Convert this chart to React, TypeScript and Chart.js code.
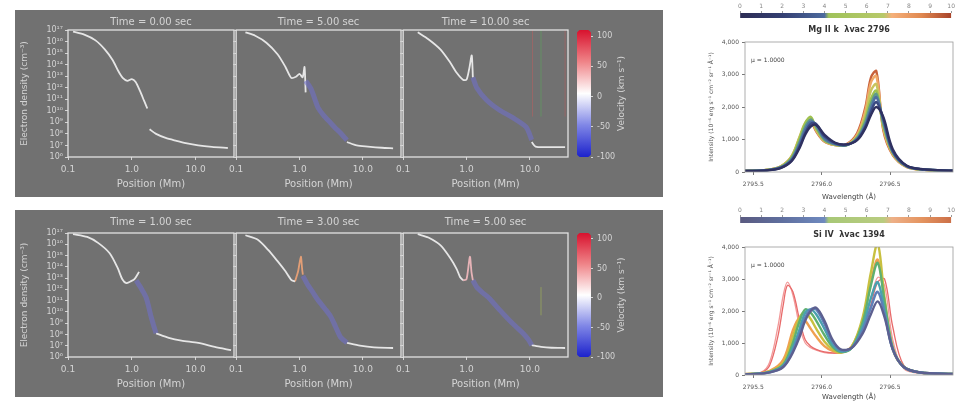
import React, { useEffect, useRef } from "react";
import { Chart, registerables } from "chart.js";

Chart.register(...registerables);

const FONT = "'DejaVu Sans', sans-serif";
const LIGHT = "#d4d4d4";
const PANEL = "#717171";

// ---------------- left panels: density vs position ----------------
const positionTicks = [0.1, 1, 10];
const positionTickLabels = ["0.1", "1.0", "10.0"];
const densityExponents = [6, 7, 8, 9, 10, 11, 12, 13, 14, 15, 16, 17];
const velocityTicks = [-100, -50, 0, 50, 100];

const topTitles = ["Time = 0.00 sec", "Time = 5.00 sec", "Time = 10.00 sec"];
const bottomTitles = ["Time = 1.00 sec", "Time = 3.00 sec", "Time = 5.00 sec"];

// top row, Time = 0.00
const a1WhiteX = [0.12, 0.18, 0.27, 0.38, 0.5, 0.62, 0.72, 0.85, 1.0, 1.15, 1.35, 1.55, 1.75];
const a1WhiteLogN = [16.85, 16.6, 16.1, 15.3, 14.4, 13.4, 12.85, 12.6, 12.75, 12.5, 11.7, 10.9, 10.2];
const a1TailX = [1.9, 2.4, 3.4, 5.0, 7.0, 11, 18, 32];
const a1TailLogN = [8.4, 8.0, 7.65, 7.4, 7.2, 7.0, 6.87, 6.78];
// top row, Time = 5.00
const a2WhiteX = [0.14, 0.2, 0.3, 0.45, 0.6, 0.74, 0.88, 1.0, 1.12, 1.2, 1.25];
const a2WhiteLogN = [16.8, 16.5, 15.9, 14.9, 13.8, 12.85, 12.95, 13.2, 12.9, 13.8, 11.6];
const a2BlueX = [1.25, 1.52, 1.75, 1.95, 2.4, 3.1, 3.7, 4.4, 5.6];
const a2BlueLogN = [12.6, 11.9, 11.0, 10.3, 9.6, 8.95, 8.5, 8.1, 7.45];
const a2TailX = [5.6, 8, 12, 20, 30];
const a2TailLogN = [7.3, 7.0, 6.9, 6.8, 6.75];
// top row, Time = 10.00
const a3WhiteX = [0.17, 0.25, 0.39, 0.55, 0.7, 0.88, 1.0, 1.1, 1.21, 1.26];
const a3WhiteLogN = [16.8, 16.2, 15.3, 14.2, 13.3, 12.7, 12.7, 13.6, 14.8, 12.9];
const a3BlueX = [1.26, 1.45, 2.07, 3.3, 5.2, 8.7, 10.7];
const a3BlueLogN = [12.9, 12.0, 10.94, 10.07, 9.46, 8.6, 7.47];
const a3TailX = [10.7, 12.3, 18, 25, 36];
const a3TailLogN = [7.3, 6.9, 6.85, 6.85, 6.85];
const a3MarkerX = [11, 15, 36];
const a3MarkerColors = ["rgba(200,90,90,0.45)", "rgba(90,170,90,0.55)", "rgba(200,90,90,0.45)"];
const a3MarkerLogN = [9.5, 17];

// bottom row, Time = 1.00
const b1WhiteX = [0.12, 0.2, 0.3, 0.45, 0.6, 0.71, 0.82, 0.95, 1.1, 1.3];
const b1WhiteLogN = [16.9, 16.65, 16.1, 15.2, 13.9, 12.9, 12.55, 12.7, 12.9, 13.55];
const b1BlueX = [1.17, 1.4, 1.67, 1.85, 2.0, 2.2, 2.4];
const b1BlueLogN = [12.8, 12.1, 11.3, 10.4, 9.6, 8.8, 8.1];
const b1TailX = [2.4, 3.8, 6, 11, 20, 36];
const b1TailLogN = [8.1, 7.7, 7.45, 7.25, 6.9, 6.6];
// bottom row, Time = 3.00
const b2WhiteX = [0.14, 0.22, 0.32, 0.45, 0.6, 0.74, 0.85];
const b2WhiteLogN = [16.8, 16.4, 15.5, 14.5, 13.6, 12.85, 12.7];
const b2SpikeX = [0.85, 0.95, 1.05, 1.1, 1.13];
const b2SpikeLogN = [12.7, 13.6, 14.9, 13.8, 13.3];
const b2BlueX = [1.13, 1.35, 1.6, 1.93, 2.5, 3.1, 3.7, 4.4, 5.6];
const b2BlueLogN = [13.2, 12.4, 11.8, 11.1, 10.3, 9.6, 8.7, 7.8, 7.25];
const b2TailX = [5.6, 9, 15, 30];
const b2TailLogN = [7.25, 7.0, 6.85, 6.8];
// bottom row, Time = 5.00
const b3WhiteX = [0.17, 0.25, 0.39, 0.55, 0.7, 0.79, 0.88];
const b3WhiteLogN = [16.9, 16.6, 15.9, 14.8, 13.8, 13.1, 12.8];
const b3SpikeX = [0.88, 1.0, 1.13, 1.2, 1.26];
const b3SpikeLogN = [12.8, 12.9, 14.9, 13.5, 12.8];
const b3BlueX = [1.26, 1.45, 1.8, 2.3, 3.3, 4.5, 6.0, 7.8, 9.6, 10.7];
const b3BlueLogN = [12.8, 12.2, 11.7, 11.2, 10.2, 9.4, 8.7, 8.1, 7.5, 7.05];
const b3TailX = [10.7, 15, 22, 36];
const b3TailLogN = [7.05, 6.9, 6.82, 6.8];
const b3MarkerX = [15];
const b3MarkerColors = ["rgba(170,190,80,0.55)"];
const b3MarkerLogN = [9.7, 12.2];

// ---------------- right panels: spectral profiles ----------------
const timeTicks = [0, 1, 2, 3, 4, 5, 6, 7, 8, 9, 10];
const wavelengthTicks = [2795.5, 2796.0, 2796.5];
const intensityTicks = [0, 1000, 2000, 3000, 4000];

const topWave = [2795.44, 2795.6, 2795.7, 2795.78, 2795.84, 2795.88, 2795.92, 2795.96, 2796.02, 2796.1, 2796.18, 2796.26, 2796.32, 2796.36, 2796.4, 2796.45, 2796.52, 2796.62, 2796.75, 2796.96];
const topP0 = [30, 50, 120, 330, 750, 1150, 1400, 1450, 1150, 900, 850, 980, 1350, 1750, 2000, 1700, 700, 200, 80, 40];
const topP1 = [30, 55, 130, 350, 800, 1200, 1480, 1480, 1100, 880, 840, 1000, 1400, 1850, 2150, 1650, 650, 190, 80, 40];
const topP2 = [30, 55, 140, 380, 880, 1300, 1550, 1450, 1050, 860, 830, 1020, 1450, 1950, 2300, 1600, 620, 180, 75, 40];
const topP3 = [30, 60, 150, 420, 950, 1400, 1620, 1400, 1000, 850, 820, 1050, 1550, 2100, 2400, 1500, 600, 180, 75, 40];
const topP4 = [35, 60, 160, 460, 1050, 1500, 1700, 1350, 980, 840, 820, 1080, 1650, 2250, 2500, 1450, 580, 170, 70, 40];
const topP5 = [35, 65, 170, 480, 1100, 1520, 1650, 1300, 960, 830, 830, 1100, 1750, 2500, 2700, 1400, 560, 170, 70, 40];
const topP6 = [35, 65, 170, 480, 1080, 1480, 1600, 1280, 950, 830, 840, 1150, 1900, 2750, 2950, 1350, 540, 160, 70, 40];
const topP7 = [35, 65, 165, 470, 1050, 1450, 1550, 1250, 940, 830, 850, 1200, 2000, 2900, 3100, 1300, 520, 160, 70, 40];
const topColors = ["#2f3160", "#3a4a82", "#4f6ea3", "#5f9a8a", "#9fc24f", "#c9c45e", "#f0a868", "#c8603a"];

const botWave = [2795.44, 2795.56, 2795.62, 2795.68, 2795.72, 2795.75, 2795.79, 2795.84, 2795.88, 2795.92, 2795.96, 2796.02, 2796.08, 2796.14, 2796.22, 2796.3, 2796.36, 2796.41, 2796.46, 2796.52, 2796.6, 2796.72, 2796.96];
const botP0 = [20, 40, 80, 150, 250, 400, 700, 1200, 1700, 2000, 2100, 1700, 1100, 800, 850, 1300, 1900, 2300, 1800, 800, 250, 80, 30];
const botP1 = [20, 40, 80, 160, 270, 430, 750, 1300, 1800, 2050, 2050, 1600, 1050, 780, 850, 1400, 2100, 2600, 1900, 800, 250, 80, 30];
const botP2 = [20, 45, 90, 180, 300, 480, 850, 1450, 1950, 2050, 1900, 1450, 950, 740, 850, 1500, 2400, 2900, 2000, 800, 250, 80, 30];
const botP3 = [25, 50, 100, 200, 330, 550, 1000, 1700, 2050, 1950, 1700, 1250, 880, 720, 850, 1650, 2800, 3500, 2300, 850, 250, 80, 30];
const botP4 = [25, 55, 110, 230, 380, 650, 1200, 1800, 1950, 1750, 1450, 1050, 800, 700, 880, 1800, 3200, 4100, 2400, 850, 260, 80, 30];
const botP5 = [30, 60, 130, 280, 480, 800, 1400, 1800, 1700, 1450, 1200, 900, 750, 700, 900, 1700, 2900, 3600, 2300, 800, 250, 80, 30];
const botP6 = [30, 80, 300, 1200, 2200, 2800, 2600, 1700, 1100, 900, 800, 720, 690, 700, 850, 1400, 2200, 2900, 3000, 1500, 300, 60, 30];
const botP7 = [30, 90, 400, 1500, 2500, 2900, 2500, 1500, 1000, 850, 780, 700, 680, 700, 880, 1500, 2400, 3050, 2800, 1100, 200, 50, 30];
const botColors = ["#5d6090", "#5f7fb8", "#4aa0b0", "#5fb070", "#c8c040", "#f0a050", "#e86a6a", "#f29a9a"];

const topLineTitle = "Mg II k  λvac 2796";
const botLineTitle = "Si IV  λvac 1394";

// ---------------- helpers ----------------
const SUP = "⁰¹²³⁴⁵⁶⁷⁸⁹";
const sup = (n: number) => String(n).split("").map((c) => (c === "-" ? "⁻" : SUP[+c])).join("");

type Seg = { x: number[]; logN: number[]; color: string; width: number };
const WHITE = "rgba(236,236,236,0.95)";
const BLUE = "rgba(112,112,200,0.6)";
const ORANGE = "rgba(232,160,118,0.95)";
const PINK = "rgba(236,182,186,0.95)";

const frame = (color: string, width: number) => ({
  id: "frame",
  afterDatasetsDraw(chart: any) {
    const { ctx, chartArea: a } = chart;
    ctx.save();
    ctx.strokeStyle = color;
    ctx.lineWidth = width;
    ctx.strokeRect(a.left, a.top, a.right - a.left, a.bottom - a.top);
    ctx.restore();
  },
});

const label = (text: string, dy: number, size: number, color: string, weight = "normal") => ({
  id: "lbl",
  afterDraw(chart: any) {
    const { ctx, chartArea: a } = chart;
    ctx.save();
    ctx.fillStyle = color;
    ctx.font = `${weight} ${size}px ${FONT}`;
    ctx.textAlign = "center";
    ctx.textBaseline = "middle";
    ctx.fillText(text, (a.left + a.right) / 2, a.top - dy);
    ctx.restore();
  },
});

const note = (text: string, dx: number, dy: number, size: number, color: string) => ({
  id: "note",
  afterDraw(chart: any) {
    const { ctx, chartArea: a } = chart;
    ctx.save();
    ctx.fillStyle = color;
    ctx.font = `${size}px ${FONT}`;
    ctx.textAlign = "left";
    ctx.textBaseline = "middle";
    ctx.fillText(text, a.left + dx, a.top + dy);
    ctx.restore();
  },
});

const sideTitle = (text: string, dx: number, size: number, color: string) => ({
  id: "side",
  afterDraw(chart: any) {
    const { ctx, chartArea: a } = chart;
    ctx.save();
    ctx.fillStyle = color;
    ctx.font = `${size}px ${FONT}`;
    ctx.textAlign = "center";
    ctx.textBaseline = "middle";
    ctx.translate(a.right + dx, (a.top + a.bottom) / 2);
    ctx.rotate(-Math.PI / 2);
    ctx.fillText(text, 0, 0);
    ctx.restore();
  },
});

function densityConfig(o: {
  segs: Seg[];
  markers?: { x: number[]; colors: string[]; logN: number[] };
  showY: boolean;
  yW: number;
  padTop: number;
  title: string;
  titleDy: number;
}) {
  const datasets: any[] = o.segs.map((s) => ({
    data: s.x.map((x, i) => ({ x, y: Math.pow(10, s.logN[i]) })),
    borderColor: s.color,
    borderWidth: s.width,
    pointRadius: 0,
    tension: 0.25,
    fill: false,
  }));
  if (o.markers) {
    o.markers.x.forEach((mx, i) =>
      datasets.unshift({
        data: o.markers!.logN.map((l) => ({ x: mx, y: Math.pow(10, l) })),
        borderColor: o.markers!.colors[i],
        borderWidth: 1,
        pointRadius: 0,
      })
    );
  }
  return {
    type: "line",
    data: { datasets },
    options: {
      animation: false,
      responsive: false,
      events: [],
      layout: { padding: { top: o.padTop, right: 2, left: 0, bottom: 0 } },
      plugins: { legend: { display: false }, tooltip: { enabled: false } },
      scales: {
        x: {
          type: "logarithmic",
          min: 0.1,
          max: 40,
          afterBuildTicks: (s: any) => {
            s.ticks = positionTicks.map((v) => ({ value: v }));
          },
          ticks: {
            color: LIGHT,
            font: { family: FONT, size: 9 },
            padding: 4,
            maxRotation: 0,
            autoSkip: false,
            callback: (_v: any, i: number) => positionTickLabels[i],
          },
          grid: { drawOnChartArea: false, drawTicks: true, tickLength: 3, color: LIGHT },
          border: { display: false },
          title: {
            display: true,
            text: "Position (Mm)",
            color: LIGHT,
            font: { family: FONT, size: 10 },
            padding: { top: 0, bottom: 7 },
          },
          afterFit: (s: any) => {
            s.height = 40;
          },
        },
        y: {
          type: "logarithmic",
          min: 1e6,
          max: 1e17,
          afterBuildTicks: (s: any) => {
            s.ticks = densityExponents.map((e) => ({ value: Math.pow(10, e) }));
          },
          ticks: {
            display: o.showY,
            color: LIGHT,
            font: { family: FONT, size: 8 },
            padding: 2,
            autoSkip: false,
            callback: (_v: any, i: number) => "10" + sup(densityExponents[i]),
          },
          grid: { drawOnChartArea: false, drawTicks: true, tickLength: 3, color: LIGHT },
          border: { display: false },
          title: {
            display: o.showY,
            text: "Electron density (cm⁻³)",
            color: LIGHT,
            font: { family: FONT, size: 9 },
            padding: { top: 4, bottom: 0 },
          },
          afterFit: (s: any) => {
            s.width = o.yW;
          },
        },
      },
    },
    plugins: [frame("#e2e2e2", 1.3), label(o.title, o.titleDy, 10, LIGHT)],
  };
}

function velocityBarConfig(padTop: number) {
  return {
    type: "bar",
    data: {
      labels: [""],
      datasets: [
        {
          data: [[-100, 110]],
          backgroundColor: (c: any) => {
            const a = c.chart.chartArea;
            if (!a) return "#ffffff";
            const g = c.chart.ctx.createLinearGradient(0, a.bottom, 0, a.top);
            g.addColorStop(0, "#1c22cc");
            g.addColorStop(0.25, "#7f86e6");
            g.addColorStop(0.5, "#ffffff");
            g.addColorStop(0.75, "#ef8488");
            g.addColorStop(1, "#d8122e");
            return g;
          },
          borderWidth: 0,
          borderRadius: 5,
          borderSkipped: false,
          categoryPercentage: 1,
          barPercentage: 1,
        },
      ],
    },
    options: {
      animation: false,
      responsive: false,
      events: [],
      layout: { padding: { top: padTop, bottom: 40, left: 0, right: 0 } },
      plugins: { legend: { display: false }, tooltip: { enabled: false } },
      scales: {
        x: { display: false },
        y: {
          position: "right",
          min: -100,
          max: 110,
          afterBuildTicks: (s: any) => {
            s.ticks = velocityTicks.map((v) => ({ value: v }));
          },
          ticks: { color: LIGHT, font: { family: FONT, size: 8 }, padding: 4, autoSkip: false },
          grid: { drawOnChartArea: false, drawTicks: true, tickLength: 2, color: LIGHT },
          border: { display: false },
          afterFit: (s: any) => {
            s.width = 50;
          },
        },
      },
    },
    plugins: [sideTitle("Velocity (km s⁻¹)", 31, 9, LIGHT)],
  };
}

function timeBarConfig(axisH: number, stops: string[]) {
  return {
    type: "bar",
    data: {
      labels: [""],
      datasets: [
        {
          data: [[0, 10]],
          backgroundColor: (c: any) => {
            const a = c.chart.chartArea;
            if (!a) return "#888";
            const g = c.chart.ctx.createLinearGradient(a.left, 0, a.right, 0);
            const pos = [0, 0.2, 0.4, 0.42, 0.68, 0.72, 0.86, 1];
            stops.forEach((col, i) => g.addColorStop(pos[i], col));
            return g;
          },
          borderWidth: 0,
          categoryPercentage: 1,
          barPercentage: 1,
        },
      ],
    },
    options: {
      indexAxis: "y",
      animation: false,
      responsive: false,
      events: [],
      layout: { padding: { top: 0, bottom: 2, left: 10, right: 3 } },
      plugins: { legend: { display: false }, tooltip: { enabled: false } },
      scales: {
        y: { display: false },
        x: {
          position: "top",
          min: 0,
          max: 10,
          afterBuildTicks: (s: any) => {
            s.ticks = timeTicks.map((v) => ({ value: v }));
          },
          ticks: { color: "#888", font: { family: FONT, size: 6 }, padding: 1, maxRotation: 0, autoSkip: false },
          grid: { drawOnChartArea: false, drawTicks: true, tickLength: 2, color: "#999" },
          border: { display: false },
          afterFit: (s: any) => {
            s.height = axisH;
          },
        },
      },
    },
  };
}

function profileConfig(o: {
  wave: number[];
  profiles: number[][];
  colors: string[];
  widths: number[];
  title: string;
  xAxisH: number;
  xTitlePad: number;
}) {
  return {
    type: "line",
    data: {
      datasets: o.profiles.map((p, i) => ({
        data: o.wave.map((w, j) => ({ x: w, y: p[j] })),
        borderColor: o.colors[i],
        borderWidth: o.widths[i],
        pointRadius: 0,
        tension: 0.35,
        fill: false,
      })),
    },
    options: {
      animation: false,
      responsive: false,
      events: [],
      layout: { padding: { top: 22, right: 3, left: 0, bottom: 0 } },
      plugins: { legend: { display: false }, tooltip: { enabled: false } },
      scales: {
        x: {
          type: "linear",
          min: 2795.44,
          max: 2796.96,
          afterBuildTicks: (s: any) => {
            s.ticks = wavelengthTicks.map((v) => ({ value: v }));
          },
          ticks: {
            color: "#555",
            font: { family: FONT, size: 6 },
            padding: 6,
            maxRotation: 0,
            autoSkip: false,
            callback: (v: any) => Number(v).toFixed(1),
          },
          grid: { drawOnChartArea: false, drawTicks: true, tickLength: 3, color: "#777" },
          border: { display: false },
          title: {
            display: true,
            text: "Wavelength (Å)",
            color: "#444",
            font: { family: FONT, size: 7 },
            padding: { top: 0, bottom: o.xTitlePad },
          },
          afterFit: (s: any) => {
            s.height = o.xAxisH;
          },
        },
        y: {
          min: 0,
          max: 4000,
          afterBuildTicks: (s: any) => {
            s.ticks = intensityTicks.map((v) => ({ value: v }));
          },
          ticks: { color: "#555", font: { family: FONT, size: 6 }, padding: 3, autoSkip: false },
          grid: { drawOnChartArea: false, drawTicks: true, tickLength: 3, color: "#777" },
          border: { display: false },
          title: {
            display: true,
            text: "Intensity (10⁻⁶ erg s⁻¹ cm⁻² sr⁻¹ Å⁻¹)",
            color: "#555",
            font: { family: FONT, size: 6 },
            padding: { top: 8, bottom: 0 },
          },
          afterFit: (s: any) => {
            s.width = 45;
          },
        },
      },
    },
    plugins: [frame("#9a9a9a", 0.8), label(o.title, 12, 8, "#333", "bold"), note("μ = 1.0000", 6, 18, 6, "#444")],
  };
}

function ChartBox({ left, top, width, height, make }: any) {
  const ref = useRef<HTMLCanvasElement>(null);
  useEffect(() => {
    const chart = new Chart(ref.current as any, make());
    return () => chart.destroy();
  }, []);
  return (
    <canvas
      ref={ref}
      width={width}
      height={height}
      style={{ position: "absolute", left, top, width, height }}
    />
  );
}

const seg = (x: number[], logN: number[], color: string, width: number): Seg => ({ x, logN, color, width });

export default function App() {
  const topSegs: Seg[][] = [
    [seg(a1WhiteX, a1WhiteLogN, WHITE, 1.8), seg(a1TailX, a1TailLogN, WHITE, 1.8)],
    [seg(a2BlueX, a2BlueLogN, BLUE, 5), seg(a2WhiteX, a2WhiteLogN, WHITE, 1.8), seg(a2TailX, a2TailLogN, WHITE, 1.8)],
    [seg(a3BlueX, a3BlueLogN, BLUE, 5), seg(a3WhiteX, a3WhiteLogN, WHITE, 1.8), seg(a3TailX, a3TailLogN, WHITE, 1.8)],
  ];
  const botSegs: Seg[][] = [
    [seg(b1BlueX, b1BlueLogN, BLUE, 5), seg(b1WhiteX, b1WhiteLogN, WHITE, 1.8), seg(b1TailX, b1TailLogN, WHITE, 1.8)],
    [seg(b2BlueX, b2BlueLogN, BLUE, 5), seg(b2WhiteX, b2WhiteLogN, WHITE, 1.8), seg(b2SpikeX, b2SpikeLogN, ORANGE, 1.8), seg(b2TailX, b2TailLogN, WHITE, 1.8)],
    [seg(b3BlueX, b3BlueLogN, BLUE, 5), seg(b3WhiteX, b3WhiteLogN, WHITE, 1.8), seg(b3SpikeX, b3SpikeLogN, PINK, 1.8), seg(b3TailX, b3TailLogN, WHITE, 1.8)],
  ];
  const plotLefts = [68, 235, 402];
  const plotW = 166;

  const leftCharts: any[] = [];
  [0, 1].forEach((row) => {
    const panelTop = row === 0 ? 10 : 210;
    const padTop = row === 0 ? 20 : 23;
    plotLefts.forEach((pl, i) => {
      const yW = i === 0 ? 53 : 10;
      const markers =
        row === 0 && i === 2
          ? { x: a3MarkerX, colors: a3MarkerColors, logN: a3MarkerLogN }
          : row === 1 && i === 2
          ? { x: b3MarkerX, colors: b3MarkerColors, logN: b3MarkerLogN }
          : undefined;
      leftCharts.push(
        <ChartBox
          key={`d${row}${i}`}
          left={pl - yW}
          top={panelTop}
          width={yW + plotW + 2}
          height={187}
          make={() =>
            densityConfig({
              segs: row === 0 ? topSegs[i] : botSegs[i],
              markers,
              showY: i === 0,
              yW,
              padTop,
              title: row === 0 ? topTitles[i] : bottomTitles[i],
              titleDy: row === 0 ? 8 : 11,
            })
          }
        />
      );
    });
    leftCharts.push(
      <ChartBox key={`v${row}`} left={577} top={panelTop} width={64} height={187} make={() => velocityBarConfig(padTop)} />
    );
  });

  return (
    <div style={{ position: "absolute", left: 0, top: 0, width: 956, height: 401, overflow: "hidden", background: "#fff" }}>
      <div style={{ position: "absolute", left: 15, top: 10, width: 648, height: 187, background: PANEL }} />
      <div style={{ position: "absolute", left: 15, top: 210, width: 648, height: 187, background: PANEL }} />
      {leftCharts}
      <ChartBox
        left={730}
        top={0}
        width={226}
        height={20}
        make={() => timeBarConfig(13, ["#2c2c54", "#343f72", "#4d6b9e", "#9fc25a", "#b8c96a", "#f5b07a", "#e08850", "#a8432a"])}
      />
      <ChartBox
        left={700}
        top={20}
        width={256}
        height={183}
        make={() =>
          profileConfig({
            wave: topWave,
            profiles: [topP0, topP1, topP2, topP3, topP4, topP5, topP6, topP7],
            colors: topColors,
            widths: [2.4, 2.4, 2.4, 2.4, 2.4, 2.4, 2.4, 2.4],
            title: topLineTitle,
            xAxisH: 31,
            xTitlePad: 2,
          })
        }
      />
      <ChartBox
        left={730}
        top={203}
        width={226}
        height={22}
        make={() => timeBarConfig(14, ["#5a5a80", "#5f6f9f", "#6f8abf", "#a8c877", "#b9cc80", "#eeb088", "#e49460", "#cc7048"])}
      />
      <ChartBox
        left={700}
        top={225}
        width={256}
        height={176}
        make={() =>
          profileConfig({
            wave: botWave,
            profiles: [botP0, botP1, botP2, botP3, botP4, botP5, botP6, botP7],
            colors: botColors,
            widths: [2.4, 2.4, 2.4, 2.4, 2.4, 2.4, 1.3, 1.3],
            title: botLineTitle,
            xAxisH: 26,
            xTitlePad: 0,
          })
        }
      />
    </div>
  );
}
